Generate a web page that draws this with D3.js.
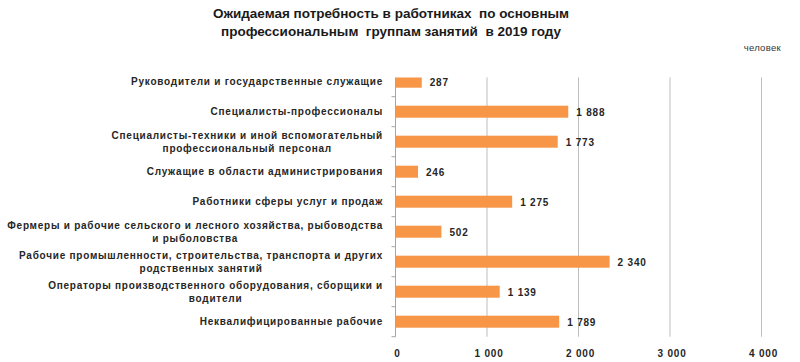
<!DOCTYPE html>
<html><head><meta charset="utf-8">
<script src="https://cdn.jsdelivr.net/npm/d3@7"></script>
<style>
html,body{margin:0;padding:0;background:#fff;}
svg{display:block;}
</style></head>
<body>
<svg id="chart" width="800" height="362"></svg>
<script>
const categories = [
  ["Руководители и государственные служащие"],
  ["Специалисты-профессионалы"],
  ["Специалисты-техники и иной вспомогательный", "профессиональный персонал"],
  ["Служащие в области администрирования"],
  ["Работники сферы услуг и продаж"],
  ["Фермеры и рабочие сельского и лесного хозяйства, рыбоводства", "и рыболовства"],
  ["Рабочие промышленности, строительства, транспорта и других", "родственных занятий"],
  ["Операторы производственного оборудования, сборщики и", "водители"],
  ["Неквалифицированные рабочие"]
];
const values = [287, 1888, 1773, 246, 1275, 502, 2340, 1139, 1789];
const valueLabels = ["287", "1 888", "1 773", "246", "1 275", "502", "2 340", "1 139", "1 789"];
const xTicks = [0, 1000, 2000, 3000, 4000];
const xTickLabels = ["0", "1 000", "2 000", "3 000", "4 000"];
const titleLines = ["Ожидаемая потребность в работниках  по основным", "профессиональным  группам занятий  в 2019 году"];
const unitLabel = "человек";

const svg = d3.select("#chart");
const font = "'Liberation Sans', Arial, sans-serif";
const textColor = "#262626";

const x = d3.scaleLinear().domain([0, 4000]).range([395.5, 761.5]);
const y = d3.scaleBand().domain(d3.range(categories.length)).range([66.7, 336.7]).paddingInner(0.6).paddingOuter(0.3);
const plotTop = 77.5, plotBottom = 336.7;

// title
svg.append("g").selectAll("text").data(titleLines).join("text")
  .attr("x", 391).attr("y", (d, i) => 18 + i * 18)
  .attr("text-anchor", "middle")
  .attr("font-family", font).attr("font-weight", "bold").attr("font-size", 13.5)
  .attr("fill", "#1a1a1a").style("white-space", "pre").text(d => d);

svg.append("text").attr("x", 781).attr("y", 51).attr("text-anchor", "end")
  .attr("font-family", font).attr("font-size", 9.5).attr("letter-spacing", 0.3).attr("fill", "#333").text(unitLabel);

// gridlines
svg.append("g").selectAll("line").data(xTicks.slice(1)).join("line")
  .attr("x1", d => x(d)).attr("x2", d => x(d))
  .attr("y1", plotTop).attr("y2", plotBottom)
  .attr("stroke", "#bdbdbd").attr("stroke-width", 1);

// clip
svg.append("clipPath").attr("id", "plotclip").append("rect")
  .attr("x", x(0)).attr("y", plotTop).attr("width", x(4000) - x(0)).attr("height", plotBottom - plotTop);

// bars
svg.append("g").attr("clip-path", "url(#plotclip)").selectAll("rect").data(values).join("rect")
  .attr("x", x(0)).attr("y", (d, i) => y(i))
  .attr("width", d => x(d) - x(0)).attr("height", y.bandwidth())
  .attr("fill", "#F79646");

// left axis line + ticks
const boundaries = d3.range(categories.length + 1).map(i => 66.7 + i * (270 / categories.length));
svg.append("line").attr("x1", x(0)).attr("x2", x(0)).attr("y1", plotTop).attr("y2", plotBottom)
  .attr("stroke", "#a6a6a6");
svg.append("g").selectAll("line").data(boundaries.slice(1)).join("line")
  .attr("x1", x(0) - 4).attr("x2", x(0)).attr("y1", d => d).attr("y2", d => d)
  .attr("stroke", "#a6a6a6");

// category labels
const labG = svg.append("g");
categories.forEach((lines, i) => {
  const cy = y(i) + y.bandwidth() / 2;
  const lh = 13;
  const y0 = cy - (lines.length - 1) * lh / 2 + 3.5;
  const first = labG.append("text")
    .attr("x", 383).attr("y", y0)
    .attr("text-anchor", "end")
    .attr("font-family", font).attr("font-weight", "bold").attr("font-size", 10)
    .attr("letter-spacing", 0.75)
    .attr("fill", textColor).text(lines[0]);
  if (lines.length > 1) {
    const b1 = first.node().getBBox();
    labG.append("text")
      .attr("x", b1.x + b1.width / 2).attr("y", y0 + lh)
      .attr("text-anchor", "middle")
      .attr("font-family", font).attr("font-weight", "bold").attr("font-size", 10)
      .attr("letter-spacing", 0.75)
      .attr("fill", textColor).text(lines[1]);
  }
});

// value labels
svg.append("g").selectAll("text").data(values).join("text")
  .attr("x", d => x(d) + 8).attr("y", (d, i) => y(i) + y.bandwidth() / 2 + 4)
  .attr("font-family", font).attr("font-weight", "bold").attr("font-size", 10)
  .attr("letter-spacing", 0.8)
  .attr("fill", textColor).text((d, i) => valueLabels[i]);

// x axis labels
svg.append("g").selectAll("text").data(xTicks).join("text")
  .attr("x", d => x(d) + 2).attr("y", 357).attr("text-anchor", "middle")
  .attr("font-family", font).attr("font-weight", "bold").attr("font-size", 10)
  .attr("letter-spacing", 0.8)
  .attr("fill", textColor).text((d, i) => xTickLabels[i]);
</script>
</body></html>
